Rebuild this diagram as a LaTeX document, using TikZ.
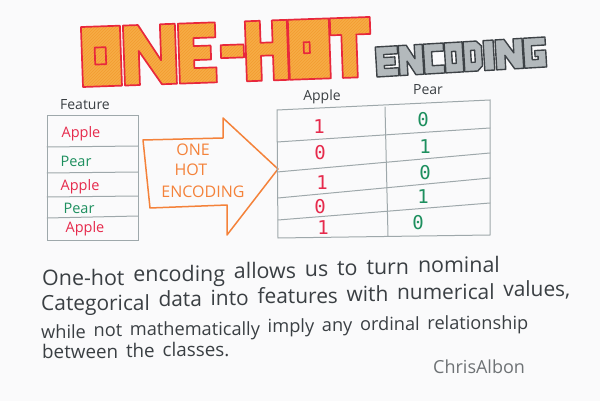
\documentclass[tikz,border=0pt]{standalone}
\usepackage{fontspec}
\setmainfont{Open Sans}
\newfontfamily\digitfont{DejaVu Sans Mono}
\usetikzlibrary{patterns,calc}

\definecolor{paper}{HTML}{FAFAFB}
\definecolor{hotfill}{HTML}{F7AC45}
\definecolor{hothatch}{HTML}{F39C30}
\definecolor{hotline}{HTML}{E8283C}
\definecolor{encfill}{HTML}{B3B9BC}
\definecolor{encline}{HTML}{3D4246}
\definecolor{gridline}{HTML}{9EA8AB}
\definecolor{applered}{HTML}{E62A4C}
\definecolor{peargreen}{HTML}{1D8F5E}
\definecolor{arroworange}{HTML}{F4823A}
\definecolor{inkgray}{HTML}{3A3F43}
\definecolor{signgray}{HTML}{6E7275}

\tikzset{
  hotletter/.style={draw=hotline, line width=1.7pt, line join=round, even odd rule,
    preaction={fill=hotfill},
    preaction={pattern=north east lines, pattern color=hothatch}},
  encletter/.style={draw=encline, line width=1.4pt, line join=round, even odd rule,
    fill=encfill},
  grid/.style={draw=gridline, line width=1pt, line cap=round},
  cell/.style={inner sep=0pt, font=\fontsize{14.5}{16}\selectfont},
  applecell/.style={cell, text=applered},
  pearcell/.style={cell, text=peargreen},
  head/.style={inner sep=0pt, text=inkgray, font=\fontsize{14}{16}\selectfont},
  bit/.style={inner sep=0pt, font=\digitfont\fontsize{19}{21}\selectfont},
  redbit/.style={bit, text=applered},
  greenbit/.style={bit, text=peargreen},
  arrowlabel/.style={inner sep=0pt, text=arroworange, font=\fontsize{16}{18}\selectfont},
  word/.style={inner sep=0pt, anchor=base west, text=inkgray, font=\linefont},
}

% one word of the handwritten paragraph, set after the word #1 on a rising line
\newcommand\wordafter[3]{%
  \path let \p1=(#1.base west), \p2=(#1.base east) in
    node[word] (#2) at (\x2+\wordgap, {\y2+\tilt*(\x2-\x1+\wordgap)}) {#3};}

\begin{document}
\begin{tikzpicture}[x=1pt, y=-1pt]
  % paper
  \fill[paper] (0,0) rectangle (600,401);
  \useasboundingbox (0,0) rectangle (600,401);

  % ---- title: ONE-HOT in block letters ----
  \begin{scope}[rotate around={2:(83,87)}]
    % O
    \draw[hotletter, shift={(83,27)}] (0,0) rectangle (39,60) (13,21) rectangle (24,38);
    % N
    \draw[hotletter, shift={(125,27)}] (0,0) -- (15,0) -- (37,36) -- (37,0) -- (52,0)
      -- (52,60) -- (37,60) -- (15,26) -- (15,60) -- (0,60) -- cycle;
    % E
    \draw[hotletter, shift={(180,27)}] (0,0) -- (37,0) -- (37,15) -- (15,15) -- (15,23)
      -- (32,23) -- (32,37) -- (15,37) -- (15,45) -- (37,45) -- (37,60) -- (0,60) -- cycle;
    % hyphen
    \draw[hotletter, shift={(222,27)}] (0,23) rectangle (23,36);
    % H
    \draw[hotletter, shift={(247,27)}] (0,0) -- (15,0) -- (15,22) -- (27,22) -- (27,0)
      -- (42,0) -- (42,60) -- (27,60) -- (27,35) -- (15,35) -- (15,60) -- (0,60) -- cycle;
    % O
    \draw[hotletter, shift={(290,27)}] (0,0) rectangle (41,60) (15,23) rectangle (21,34);
    % T
    \draw[hotletter, shift={(332,27)}] (0,0) -- (40,0) -- (40,17) -- (26,17) -- (26,60)
      -- (11,60) -- (11,17) -- (0,17) -- cycle;
  \end{scope}

  % ---- title: ENCODING in small block letters ----
  \begin{scope}[rotate around={3.4:(377,77)}]
    % E
    \draw[encletter, shift={(377,47)}] (0,0) -- (22,0) -- (22,8) -- (8,8) -- (8,11)
      -- (19,11) -- (19,19) -- (8,19) -- (8,22) -- (22,22) -- (22,30) -- (0,30) -- cycle;
    % N
    \draw[encletter, shift={(400,47)}] (0,0) -- (8,0) -- (16,14) -- (16,0) -- (24,0)
      -- (24,30) -- (16,30) -- (8,16) -- (8,30) -- (0,30) -- cycle;
    % C
    \draw[encletter, shift={(425,47)}] (0,0) -- (20,0) -- (20,8) -- (8,8) -- (8,22)
      -- (20,22) -- (20,30) -- (0,30) -- cycle;
    % O
    \draw[encletter, shift={(446,47)}] (0,0) rectangle (18,30) (7,9) rectangle (11,21);
    % D
    \draw[encletter, shift={(465,47)}] (0,0) -- (13,0) -- (18,5) -- (18,25) -- (13,30)
      -- (0,30) -- cycle (7,9) -- (11,9) -- (11,21) -- (7,21) -- cycle;
    % I
    \draw[encletter, shift={(485,47)}] (0,0) rectangle (10,30);
    % N
    \draw[encletter, shift={(497,47)}] (0,0) -- (9,0) -- (18,14) -- (18,0) -- (27,0)
      -- (27,30) -- (18,30) -- (9,16) -- (9,30) -- (0,30) -- cycle;
    % G
    \draw[encletter, shift={(525,47)}] (0,0) -- (22,0) -- (22,8) -- (8,8) -- (8,22)
      -- (14,22) -- (14,19) -- (11,19) -- (11,13) -- (22,13) -- (22,30) -- (0,30) -- cycle;
  \end{scope}

  % ---- feature column ----
  \node[head] (feathead) at (85,105) {Feature};
  \coordinate (fa) at (47,116);
  \coordinate (fb) at (138,240);
  \draw[grid] (fa) rectangle (fb);
  \draw[grid] (47,147) -- (138,146);
  \draw[grid] (47,173) -- (138,172);
  \draw[grid] (47,197) -- (138,196);
  \draw[grid] (47,218) -- (138,216);

  \node[applecell] (f1) at (81,134) {Apple};
  \node[pearcell]  (f2) at (76,161) {Pear};
  \node[applecell] (f3) at (80,187) {Apple};
  \node[pearcell]  (f4) at (79,208) {Pear};
  \node[applecell] (f5) at (85,229) {Apple};

  % ---- block arrow ----
  \coordinate (a1) at (143,140);
  \coordinate (a2) at (223,138);
  \coordinate (a3) at (223,118);
  \coordinate (a4) at (278,169);
  \coordinate (a5) at (227,235);
  \coordinate (a6) at (227,205);
  \coordinate (a7) at (150,208);
  \draw[arroworange, line width=1.5pt, line join=round]
    (a1) -- (a2) -- (a3) -- (a4) -- (a5) -- (a6) -- (a7) -- cycle;
  \node[arrowlabel] (l1) at (193,150) {ONE};
  \node[arrowlabel] (l2) at (191,170) {HOT};
  \node[arrowlabel] (l3) at (203,192) {ENCODING};

  % ---- encoded table ----
  \node[head] (hApple) at (322,97) {Apple};
  \node[head] (hPear)  at (428,90) {Pear};
  \draw[grid] (277,110) -- (490,100) -- (490,235) -- (278,238) -- cycle;
  \draw[grid] (385,107) -- (388,236);
  \draw[grid] (277,142) -- (490,128);
  \draw[grid] (277,172) -- (490,153);
  \draw[grid] (278,198) -- (490,178);
  \draw[grid] (278,220) -- (490,203);

  \node[redbit]   (a1v) at (319,127) {1};
  \node[redbit]   (a2v) at (320,153) {0};
  \node[redbit]   (a3v) at (322,183) {1};
  \node[redbit]   (a4v) at (320,207) {0};
  \node[redbit]   (a5v) at (323,228) {1};
  \node[greenbit] (p1v) at (423,120) {0};
  \node[greenbit] (p2v) at (425,147) {1};
  \node[greenbit] (p3v) at (425,173) {0};
  \node[greenbit] (p4v) at (423,197) {1};
  \node[greenbit] (p5v) at (418,223) {0};

  % ---- explanation, word by word on slightly rising lines ----
  \def\linefont{\fontsize{21.4}{24}\selectfont}\def\tilt{0.033}\def\wordgap{8.5pt}
  \node[word] (w11) at (42,285) {One-hot};
  \wordafter{w11}{w12}{encoding}
  \wordafter{w12}{w13}{allows}
  \wordafter{w13}{w14}{us}
  \wordafter{w14}{w15}{to}
  \wordafter{w15}{w16}{turn}
  \wordafter{w16}{w17}{nominal}

  \def\linefont{\fontsize{20.9}{23}\selectfont}\def\tilt{0.029}\def\wordgap{8.3pt}
  \node[word] (w21) at (41,310) {Categorical};
  \wordafter{w21}{w22}{data}
  \wordafter{w22}{w23}{into}
  \wordafter{w23}{w24}{features}
  \wordafter{w24}{w25}{with}
  \wordafter{w25}{w26}{numerical}
  \wordafter{w26}{w27}{values,}

  \def\linefont{\fontsize{18.2}{20}\selectfont}\def\tilt{0.023}\def\wordgap{7.3pt}
  \node[word] (w31) at (41,338) {while};
  \wordafter{w31}{w32}{not}
  \wordafter{w32}{w33}{mathematically}
  \wordafter{w33}{w34}{imply}
  \wordafter{w34}{w35}{any}
  \wordafter{w35}{w36}{ordinal}
  \wordafter{w36}{w37}{relationship}

  \def\linefont{\fontsize{18.8}{21}\selectfont}\def\tilt{0.01}\def\wordgap{7.5pt}
  \node[word] (w41) at (42,358) {between};
  \wordafter{w41}{w42}{the}
  \wordafter{w42}{w43}{classes.}

  \node[inner sep=0pt, anchor=base west, text=signgray,
        font=\fontsize{18}{20}\selectfont] (sig) at (433,373) {ChrisAlbon};
\end{tikzpicture}
\end{document}
